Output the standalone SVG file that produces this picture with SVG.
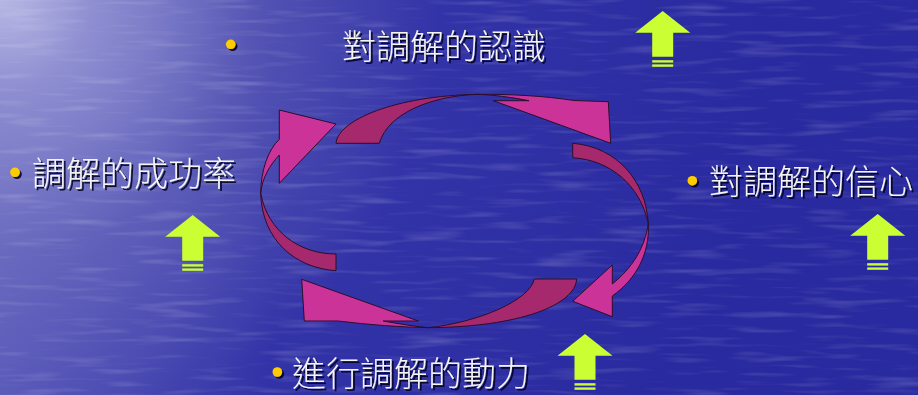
<svg xmlns="http://www.w3.org/2000/svg" xmlns:xlink="http://www.w3.org/1999/xlink" width="918" height="395" viewBox="0 0 918 395">
<style>
.lbl{font-family:"Noto Sans CJK TC","Noto Sans CJK SC",sans-serif;font-size:34px;font-weight:300;fill:#F4F4F4;filter:url(#shadow)}
.bullet{fill:#FFCC00;filter:url(#shadow)}
.dark{fill:#A6296E;stroke:#2A0E2A;stroke-width:1;stroke-linejoin:round}
.light{fill:#CC3399;stroke:#2A0E2A;stroke-width:1;stroke-linejoin:round}
.up{fill:#CCFF33}
</style>
<defs>
<radialGradient id="bg" cx="0" cy="0" r="760" gradientUnits="userSpaceOnUse">
<stop offset="0" stop-color="#d4d4f2"/>
<stop offset="0.12" stop-color="#9090d2"/>
<stop offset="0.33" stop-color="#5454b4"/>
<stop offset="0.58" stop-color="#3333a8"/>
<stop offset="1" stop-color="#2a2aa0"/>
</radialGradient>
<linearGradient id="fadeL" x1="0" y1="0" x2="1" y2="0">
<stop offset="0" stop-color="#8a8ad0" stop-opacity="0.4"/>
<stop offset="0.3" stop-color="#8a8ad0" stop-opacity="0"/>
</linearGradient>
<filter id="water" x="0" y="0" width="100%" height="100%">
<feTurbulence type="fractalNoise" baseFrequency="0.015 0.16" numOctaves="2" seed="7"/>
<feColorMatrix type="matrix" values="0 0 0 0 1  0 0 0 0 1  0 0 0 0 1  2.4 0 0 0 -1.25"/>
</filter>
<filter id="shadow" x="-10%" y="-20%" width="130%" height="150%">
<feDropShadow dx="2" dy="2" stdDeviation="0.6" flood-color="#000020" flood-opacity="0.85"/>
</filter>
<g id="uparrow">
<polygon class="up" points="0,0 27.5,21.7 10.5,21.7 10.5,45.7 -10.5,45.7 -10.5,21.7 -27.5,21.7"/>
<rect class="up" x="-10.5" y="49.2" width="21" height="2.4"/>
<rect class="up" x="-10.5" y="53.4" width="21" height="2.4"/>
</g>
</defs>
<rect width="918" height="395" fill="url(#bg)"/>
<rect width="918" height="395" fill="url(#fadeL)"/>
<rect width="918" height="395" filter="url(#water)" opacity="0.18"/>

<g id="cycle">
<g id="arrow-top">
<path class="dark" d="M336,143.3 C338,120 395,96 477,94.3 C432,96 388,113 379.3,143.3 Z"/>
<path class="light" d="M477,94.3 C510,94 545,96 574,100.5 L608.3,101.7 L610.7,143.3 L493.3,100.7 L529,100.7 C510,97 495,95 477,94.3 Z"/>
</g>
<g id="arrow-right">
<path class="dark" d="M572.7,143.3 C618,147 646,182 648.3,223.3 C640,185 610,160 572.7,157.7 Z"/>
<path class="light" d="M648.3,223.3 C650,255 635,280 612.3,296 L612.3,316.7 L572.7,301.3 L612.3,265 L612.3,284 C632,268 645,248 648.3,223.3 Z"/>
</g>
<g id="arrow-bottom">
<path class="dark" d="M576.7,279 C575,305 520,327 428.3,327.7 C480,322 530,300 534.3,279 Z"/>
<path class="light" d="M428.3,327.7 C400,327 370,325 338.3,321 L304.3,321 L301.7,279.3 L418.3,321 L383.3,321 C400,324 415,326.5 428.3,327.7 Z"/>
</g>
<g id="arrow-left">
<path class="dark" d="M336,270.7 C295,268 262,240 260.7,193.3 C268,232 300,254 336,254 Z"/>
<path class="light" d="M260.7,193.3 C261,170 268,150 279.3,139.3 L279.3,110 L336,124 L279.3,183.3 L279.3,155 C270,165 262,178 260.7,193.3 Z"/>
</g>
</g>

<g id="node-recognition">
<circle class="bullet" cx="230.7" cy="44.3" r="4.8"/>
<text class="lbl" x="342" y="58.5">對調解的認識</text>
<use xlink:href="#uparrow" href="#uparrow" x="662.7" y="11"/>
</g>
<g id="node-success">
<circle class="bullet" cx="15" cy="172.3" r="4.8"/>
<text class="lbl" x="32" y="185.5">調解的成功率</text>
<use xlink:href="#uparrow" href="#uparrow" x="192.7" y="215"/>
</g>
<g id="node-confidence">
<circle class="bullet" cx="692.3" cy="180.7" r="4.8"/>
<text class="lbl" x="709" y="194">對調解的信心</text>
<use xlink:href="#uparrow" href="#uparrow" x="877.7" y="214"/>
</g>
<g id="node-motivation">
<circle class="bullet" cx="277.3" cy="372" r="4.8"/>
<text class="lbl" x="292" y="386">進行調解的動力</text>
<use xlink:href="#uparrow" href="#uparrow" x="585" y="334"/>
</g>
</svg>
